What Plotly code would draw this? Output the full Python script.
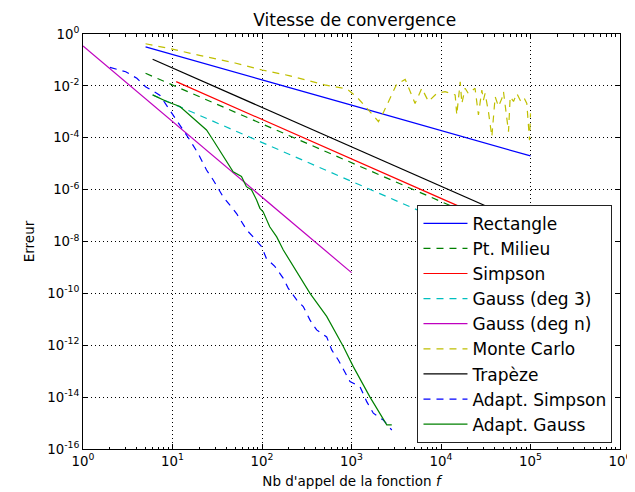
import plotly.graph_objects as go

# ---------------- data ----------------
n_rect = [5, 10, 100, 1000, 10000, 100000]
err_rect = [0.32, 0.16, 0.017, 1.8e-3, 1.9e-4, 2.0e-5]

n_mid = [5, 10, 100, 1000, 10000, 100000]
err_mid = [0.0305, 0.0108, 3.5e-4, 1.1e-5, 3.5e-7, 1.1e-8]

n_simp = [11, 100, 1000, 10000, 100000]
err_simp = [0.0146, 5.0e-4, 1.5e-5, 4.6e-7, 1.4e-8]

n_g3 = [6, 10, 100, 1000, 10000, 100000]
err_g3 = [4.45e-3, 2.07e-3, 6.6e-5, 2.1e-6, 6.6e-8, 2.1e-9]

n_gn = [1, 10, 100, 1000]
err_gn = [0.344, 4.2e-4, 5.1e-7, 6.3e-10]

n_mc = [5, 10, 20, 50, 100, 200, 500, 800, 920, 1140, 1480, 2000, 2290, 2720,
        3200, 3980, 4510, 5130, 6100, 7240, 8960, 11100, 14400, 15000, 16400,
        17100, 18600, 20200, 24000, 25100, 26200, 28600, 29800, 31100, 33900,
        37000, 38500, 40300, 43900, 47900, 49900, 52100, 56800, 59300, 64600,
        70300, 76700, 83600, 91000, 97500, 100000]
err_mc = [0.42, 0.26, 0.15, 0.076, 0.041, 0.025, 0.011, 8.1e-3, 6.9e-3, 3.8e-3,
          1.4e-3, 4.2e-4, 1.0e-3, 3.8e-3, 0.0117, 0.0178, 6.0e-3, 2.1e-3, 8.1e-3,
          2.5e-3, 5.1e-3, 6.0e-3, 4.5e-3, 7.6e-4, 0.0145, 2.1e-3, 8.1e-3, 5.1e-3,
          8.1e-3, 2.1e-3, 7.6e-4, 6.9e-3, 2.8e-3, 5.1e-3, 1.0e-3, 1.1e-4, 4.8e-4,
          3.8e-3, 1.6e-3, 3.3e-3, 6.0e-3, 2.1e-3, 1.7e-4, 3.8e-3, 2.5e-3, 5.1e-3,
          2.8e-3, 3.8e-3, 2.1e-3, 8.1e-5, 8.7e-4]

n_trap = [6, 10, 100, 1000, 10000, 100000]
err_trap = [0.106, 0.0488, 1.48e-3, 4.5e-5, 1.36e-6, 4.1e-8]

n_asimp = [2, 3, 4, 5, 7.2, 9.3, 11.1, 13.1, 15.6, 19.3, 24, 28.4, 36.8, 52, 67.3,
           79.8, 99, 112, 139, 173, 196, 244, 289, 344, 408, 528, 601, 712, 846,
           962, 1245, 1479, 1754, 2270, 2818]
err_asimp = [0.052, 0.035, 0.0196, 9.3e-3, 4.4e-3, 1.2e-3, 4.8e-4, 2.0e-4, 8.2e-5,
             2.5e-5, 5.7e-6, 2.4e-6, 5.3e-7, 1.2e-7, 2.8e-8, 1.5e-8, 6.3e-9,
             2.2e-9, 1.1e-9, 3.8e-10, 1.6e-10, 5.6e-11, 3.1e-11, 9.3e-12, 3.9e-12,
             2.1e-12, 6.6e-13, 2.7e-13, 9.5e-14, 4.0e-14, 2.5e-14, 6.7e-15,
             2.4e-15, 1.3e-15, 5.4e-16]

n_agauss = [6, 8.6, 12.1, 17, 24, 28.4, 36.8, 47.6, 59, 67, 76.5, 87, 94.8, 103,
            122, 146, 173, 214, 277, 344, 528, 810, 1047, 1610, 2477, 2818]
err_agauss = [4.5e-3, 2.5e-3, 1.6e-3, 5.6e-4, 2.0e-4, 8.2e-5, 1.9e-5, 4.9e-6,
              3.2e-6, 1.3e-6, 9.7e-7, 4.0e-7, 1.9e-7, 1.4e-7, 3.7e-8, 1.5e-8,
              4.7e-9, 1.4e-9, 3.3e-10, 1.0e-10, 1.3e-11, 8.9e-13, 1.5e-13,
              1.0e-14, 8.5e-16, 8.5e-16]

x_ticks = [1, 10, 100, 1000, 10000, 100000, 1000000]
x_ticktext = ["10<sup>0</sup>", "10<sup>1</sup>", "10<sup>2</sup>", "10<sup>3</sup>",
              "10<sup>4</sup>", "10<sup>5</sup>", "10<sup>6</sup>"]
y_ticks = [1, 1e-2, 1e-4, 1e-6, 1e-8, 1e-10, 1e-12, 1e-14, 1e-16]
y_ticktext = ["10<sup>0</sup>", "10<sup>-2</sup>", "10<sup>-4</sup>", "10<sup>-6</sup>",
              "10<sup>-8</sup>", "10<sup>-10</sup>", "10<sup>-12</sup>",
              "10<sup>-14</sup>", "10<sup>-16</sup>"]
x_minor = [m * 10 ** k for k in range(6) for m in range(2, 10)]

series = [
    ("Rectangle", n_rect, err_rect, "#0000ff", "solid"),
    ("Pt. Milieu", n_mid, err_mid, "#008000", "dash"),
    ("Simpson", n_simp, err_simp, "#ff0000", "solid"),
    ("Gauss (deg 3)", n_g3, err_g3, "#00bfbf", "dash"),
    ("Gauss (deg n)", n_gn, err_gn, "#bf00bf", "solid"),
    ("Monte Carlo", n_mc, err_mc, "#bfbf00", "dash"),
    ("Trapèze", n_trap, err_trap, "#000000", "solid"),
    ("Adapt. Simpson", n_asimp, err_asimp, "#0000ff", "dash"),
    ("Adapt. Gauss", n_agauss, err_agauss, "#008000", "solid"),
]

FONT = "DejaVu Sans"
fig = go.Figure()
for name, xs, ys, col, dash in series:
    fig.add_trace(go.Scatter(
        x=xs, y=ys, name=name, mode="lines",
        line=dict(color=col, width=1.2,
                  dash="7px,6px" if dash == "dash" else "solid"),
    ))

axis_common = dict(
    type="log", showline=True, linecolor="black", linewidth=1,
    mirror="allticks", ticks="inside", ticklen=5, tickwidth=1, tickcolor="black",
    showgrid=True, gridcolor="black", gridwidth=1, griddash="1px,3px",
    zeroline=False, tickfont=dict(family=FONT, size=13.3, color="black"),
)

fig.update_xaxes(
    range=[0, 6], tickvals=x_ticks, ticktext=x_ticktext,
    minor=dict(tickvals=x_minor, ticks="inside", ticklen=2.5, tickcolor="black",
               showgrid=False),
    title=dict(text="Nb d'appel de la fonction <i>f</i>",
               font=dict(family=FONT, size=13.5, color="black"), standoff=8),
    **axis_common,
)
fig.update_yaxes(
    range=[-16, 0], tickvals=y_ticks, ticktext=y_ticktext,
    title=dict(text="Erreur", font=dict(family=FONT, size=13.5, color="black"),
               standoff=9),
    **axis_common,
)

fig.update_layout(
    width=627, height=484,
    margin=dict(l=75, r=15, t=26, b=43, autoexpand=False),
    paper_bgcolor="white", plot_bgcolor="white",
    font=dict(family=FONT, color="black"),
    title=dict(text="Vitesse de convergence", x=0.553, xanchor="center",
               y=0.975, yanchor="middle", yref="container",
               font=dict(family=FONT, size=17, color="black")),
    legend=dict(
        x=0.986, y=0.015, xanchor="right", yanchor="bottom",
        bgcolor="white", bordercolor="#222222", borderwidth=1,
        font=dict(family=FONT, size=17, color="black"),
        itemwidth=44, tracegroupgap=0,
    ),
    showlegend=True,
)

fig.write_html("out.html")
